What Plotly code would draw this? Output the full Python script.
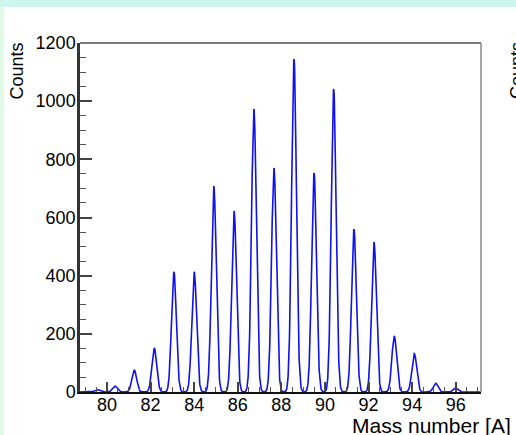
import numpy as np
import plotly.graph_objects as go

# Peak parameters (mass-spectrum peaks)
peak_centers = [79.55, 80.37, 81.25, 82.17, 83.07, 84.00, 84.90, 85.83, 86.74, 87.66,
                88.58, 89.50, 90.40, 91.33, 92.25, 93.18, 94.10, 95.08, 96.00]
peak_heights = [8, 20, 75, 150, 413, 413, 708, 622, 973, 770,
                1145, 753, 1042, 560, 516, 192, 132, 30, 14]
peak_sigma = 0.11

x_ticks = [80, 82, 84, 86, 88, 90, 92, 94, 96]
y_ticks = [0, 200, 400, 600, 800, 1000, 1200]

x_range = [78.76, 97.16]
y_range = [0, 1200]

# Build the spectrum line from the peak list
xs = np.arange(x_range[0], x_range[1], 0.01)
ys = np.zeros_like(xs)
for c, h in zip(peak_centers, peak_heights):
    ys += h * np.exp(-0.5 * ((xs - c) / peak_sigma) ** 2)

W, H = 516, 435
L, R, T, B = 80, 35, 43, 43
pw, ph = W - L - R, H - T - B


def px(xp):
    return (xp - L) / pw


def py(yp):
    return (H - B - yp) / ph


fig = go.Figure()
fig.add_trace(go.Scatter(x=xs, y=ys, mode="lines",
                         line=dict(color="#1010f0", width=1.6),
                         hoverinfo="skip", showlegend=False))

font_family = "Liberation Sans, Arial, Helvetica, sans-serif"

shapes = [
    # white panel
    dict(type="rect", xref="paper", yref="paper", x0=px(4), x1=px(520),
         y0=py(440), y1=py(7), fillcolor="white", line=dict(width=0), layer="below"),
    # left greenish strip
    dict(type="rect", xref="paper", yref="paper", x0=px(-5), x1=px(4),
         y0=py(440), y1=py(7), fillcolor="#e2fae8", line=dict(width=0), layer="below"),
    # top and right frame lines (grey)
    dict(type="line", xref="paper", yref="paper", x0=0, x1=1, y0=1, y1=1,
         line=dict(color="#7a7a7a", width=2)),
    dict(type="line", xref="paper", yref="paper", x0=1, x1=1, y0=0, y1=1,
         line=dict(color="#8a8a8a", width=1.5)),
]

annotations = [
    dict(text="Counts", xref="paper", yref="paper", x=px(16.5), y=py(71),
         xanchor="center", yanchor="middle", textangle=-90, showarrow=False,
         font=dict(size=18, color="black", family=font_family)),
    dict(text="Counts", xref="paper", yref="paper", x=px(505), y=py(71),
         xanchor="left", yanchor="middle", textangle=-90, showarrow=False,
         font=dict(size=18, color="black", family=font_family)),
    dict(text="Mass number [A]", xref="paper", yref="paper", x=px(513), y=py(412),
         xanchor="right", yanchor="top", showarrow=False,
         font=dict(size=21, color="black", family=font_family)),
]

fig.update_layout(
    width=W, height=H,
    margin=dict(l=L, r=R, t=T, b=B, pad=0),
    paper_bgcolor="#cff6ee",
    plot_bgcolor="white",
    font=dict(family=font_family, size=18, color="black"),
    shapes=shapes,
    annotations=annotations,
    xaxis=dict(range=x_range, tickmode="array", tickvals=x_ticks,
               ticktext=[str(v) for v in x_ticks],
               ticks="inside", ticklen=10, tickwidth=1.5, tickcolor="#444",
               showline=True, linecolor="#111", linewidth=2,
               showgrid=False, zeroline=False, ticklabelstandoff=-5,
               minor=dict(dtick=0.5, tick0=0, ticks="inside", ticklen=5,
                          tickwidth=1, tickcolor="#555", showgrid=False),
               tickfont=dict(size=18)),
    yaxis=dict(range=y_range, tickmode="array", tickvals=y_ticks,
               ticktext=[str(v) for v in y_ticks],
               ticks="inside", ticklen=12, tickwidth=1.5, tickcolor="#444",
               showline=True, linecolor="#333", linewidth=2.5,
               showgrid=False, zeroline=False, ticklabelstandoff=-2,
               minor=dict(dtick=50, tick0=0, ticks="inside", ticklen=6,
                          tickwidth=1, tickcolor="#555", showgrid=False),
               tickfont=dict(size=18)),
)

fig.write_html("out.html")
